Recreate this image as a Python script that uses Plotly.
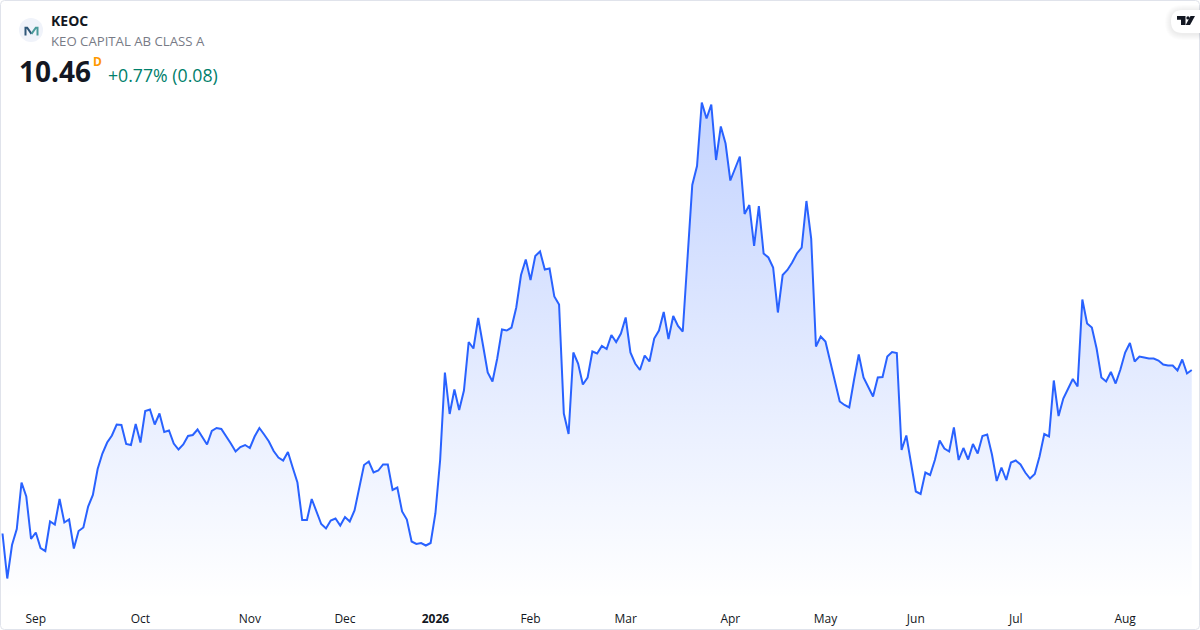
import plotly.graph_objects as go

ticker = "KEOC"
company = "KEO CAPITAL AB CLASS A"
last_price = "10.46"
interval = "D"
change_text = "+0.77% (0.08)"

close = [
    7.19, 6.29, 6.96, 7.28, 8.21, 7.93, 7.08, 7.21, 6.90, 6.84, 7.43, 7.37, 7.88, 7.41, 7.47, 6.89, 7.24, 7.31, 7.73, 7.96,
    8.48, 8.79, 9.01, 9.15, 9.37, 9.36, 8.98, 8.96, 9.38, 9.01, 9.64, 9.67, 9.37, 9.59, 9.22, 9.25, 8.99, 8.87, 8.97, 9.14,
    9.16, 9.27, 9.12, 8.97, 9.24, 9.30, 9.28, 9.14, 8.99, 8.83, 8.92, 8.96, 8.90, 9.13, 9.30, 9.17, 9.03, 8.84, 8.71, 8.65,
    8.82, 8.51, 8.21, 7.46, 7.46, 7.88, 7.63, 7.38, 7.29, 7.45, 7.49, 7.35, 7.52, 7.43, 7.65, 8.09, 8.56, 8.63, 8.41, 8.45,
    8.57, 8.57, 8.06, 8.11, 7.63, 7.47, 7.03, 6.98, 7.00, 6.95, 7.00, 7.59, 8.66, 10.41, 9.58, 10.07, 9.66, 10.05, 11.02, 10.89,
    11.50, 10.96, 10.41, 10.23, 10.69, 11.27, 11.25, 11.31, 11.71, 12.36, 12.67, 12.26, 12.74, 12.83, 12.47, 12.49, 11.93, 11.77, 9.59, 9.18,
    10.81, 10.59, 10.17, 10.31, 10.83, 10.79, 10.94, 10.88, 11.16, 11.02, 11.19, 11.51, 10.81, 10.59, 10.46, 10.75, 10.63, 11.09, 11.25, 11.62,
    11.08, 11.54, 11.34, 11.23, 12.70, 14.16, 14.54, 15.81, 15.49, 15.77, 14.66, 15.33, 14.99, 14.25, 14.49, 14.73, 13.58, 13.76, 12.94, 13.74,
    12.79, 12.71, 12.51, 11.61, 12.36, 12.46, 12.61, 12.79, 12.91, 13.84, 13.09, 10.93, 11.13, 11.03, 10.63, 10.23, 9.83, 9.76, 9.71, 10.26,
    10.77, 10.31, 10.11, 9.93, 10.31, 10.32, 10.73, 10.82, 10.80, 8.86, 9.15, 8.59, 8.03, 7.98, 8.41, 8.36, 8.66, 9.05, 8.89, 8.83,
    9.31, 8.66, 8.90, 8.67, 8.98, 8.79, 9.14, 9.17, 8.77, 8.24, 8.51, 8.26, 8.61, 8.65, 8.57, 8.41, 8.29, 8.38, 8.73, 9.18,
    9.13, 10.25, 9.54, 9.89, 10.09, 10.28, 10.13, 11.87, 11.39, 11.31, 10.89, 10.31, 10.23, 10.42, 10.19, 10.47, 10.81, 11.00, 10.63, 10.73,
    10.71, 10.69, 10.69, 10.65, 10.57, 10.55, 10.55, 10.45, 10.67, 10.39, 10.46,
]
month_labels = ["Sep", "Oct", "Nov", "Dec", "<b>2026</b>", "Feb", "Mar", "Apr", "May", "Jun", "Jul", "Aug"]
month_sessions = [7, 29, 52, 72, 91, 111, 131, 153, 173, 192, 213, 236]

W, H, AXIS_H = 1200, 630, 30
PLOT_H = H - AXIS_H
Y_MIN, Y_MAX = 5.86, 17.86
STEP, X0 = 4.757, 2.5
sessions = list(range(len(close)))


def px(x):
    return x / W


def py(y):
    return (PLOT_H - y) / PLOT_H


def rrect(x0, y0, x1, y1, r):
    a, b, c, d = px(x0), px(x1), py(y0), py(y1)
    rx, ry = r / W, r / PLOT_H
    return (f"M{a+rx},{c} L{b-rx},{c} Q{b},{c} {b},{c-ry} L{b},{d+ry} Q{b},{d} {b-rx},{d} "
            f"L{a+rx},{d} Q{a},{d} {a},{d+ry} L{a},{c-ry} Q{a},{c} {a+rx},{c} Z")


def poly(points):
    return "M" + " L".join(f"{px(x)},{py(y)}" for x, y in points) + " Z"


def polyline(points):
    return "M" + " L".join(f"{px(x)},{py(y)}" for x, y in points)


fig = go.Figure()
fig.add_trace(go.Scatter(x=sessions, y=[Y_MIN] * len(close), mode="lines",
                         line=dict(width=0), hoverinfo="skip", showlegend=False))
fig.add_trace(go.Scatter(
    x=sessions, y=close, mode="lines", fill="tonexty",
    line=dict(color="#2962ff", width=2, shape="linear"),
    fillgradient=dict(type="vertical", start=Y_MIN, stop=15.86,
                      colorscale=[[0, "rgba(41,98,255,0)"], [1, "rgba(41,98,255,0.28)"]]),
    showlegend=False, hoverinfo="skip",
))

shapes = [
    dict(type="path", path=rrect(0.5, 0.5, 1199.5, 629.5, 4), xref="paper", yref="paper",
         line=dict(color="#e0e3eb", width=1), fillcolor="rgba(0,0,0,0)", layer="above"),
    dict(type="circle", xref="paper", yref="paper", x0=px(19), x1=px(43), y0=py(42), y1=py(18),
         fillcolor="#f0f3fa", line=dict(width=0), layer="above"),
    dict(type="path", xref="paper", yref="paper", layer="above",
         path=polyline([(25.5, 35.5), (25.5, 27.7), (27.2, 27.7), (31.5, 33.8)]),
         line=dict(color="#2f5778", width=2), fillcolor="rgba(0,0,0,0)"),
    dict(type="path", xref="paper", yref="paper", layer="above",
         path=polyline([(31.5, 33.8), (35.8, 27.7), (37.5, 27.7), (37.5, 35.5)]),
         line=dict(color="#4a9a9a", width=2), fillcolor="rgba(0,0,0,0)"),
]
for off in [6, 5, 4, 3, 2, 1]:
    shapes.append(dict(type="path", xref="paper", yref="paper", layer="above", line=dict(width=0),
                       fillcolor="rgba(0,0,0,0.012)",
                       path=rrect(1171 - off, 10 - off + 1, 1215, 33 + off + 1, 11.5 + off)))
shapes.append(dict(type="path", xref="paper", yref="paper", layer="above", line=dict(width=0), fillcolor="#ffffff",
                   path=rrect(1171, 10, 1215, 33, 11.5)))
for pts in [[(1177, 16), (1185.5, 16), (1185.5, 25), (1181, 25), (1181, 19.8), (1177, 19.8)],
            [(1190.5, 16), (1195, 16), (1190, 25), (1185.7, 25)]]:
    shapes.append(dict(type="path", xref="paper", yref="paper", layer="above", line=dict(width=0),
                       fillcolor="#131722", path=poly(pts)))
shapes.append(dict(type="circle", xref="paper", yref="paper", layer="above", line=dict(width=0), fillcolor="#131722",
                   x0=px(1186.3), x1=px(1189.7), y0=py(19.6), y1=py(16.2)))


def label(text, x, y, size, color, bold=False, xanchor="left"):
    return dict(text=f"<b>{text}</b>" if bold else text, x=px(x), y=py(y), xref="paper", yref="paper",
                xanchor=xanchor, yanchor="middle", showarrow=False,
                font=dict(size=size, color=color, family="Open Sans, Noto Sans, sans-serif"))


annotations = [
    label(ticker, 49, 20.5, 14, "#131722", bold=True),
    label(company, 49, 41, 13.2, "#787b86"),
    label(last_price, 17, 71, 28, "#131722", bold=True),
    label(interval, 91, 61, 12, "#ff9800", bold=True),
    label(change_text, 106, 75, 17.7, "#00806b"),
]

fig.update_layout(
    width=W, height=H, margin=dict(l=0, r=0, t=0, b=AXIS_H),
    paper_bgcolor="#ffffff", plot_bgcolor="#ffffff", showlegend=False,
    font=dict(family="Open Sans, Noto Sans, sans-serif", size=12, color="#131722"),
    xaxis=dict(range=[-X0 / STEP, (W - X0) / STEP], tickvals=month_sessions, ticktext=month_labels,
               showgrid=False, zeroline=False, showline=False, ticks="", ticklen=0,
               ticklabelstandoff=10, tickfont=dict(size=12, color="#131722")),
    yaxis=dict(range=[Y_MIN, Y_MAX], visible=False, showgrid=False, zeroline=False),
    shapes=shapes, annotations=annotations,
)

fig.write_html("out.html", config=dict(displayModeBar=False),
               post_script="document.body.style.margin='0';")
